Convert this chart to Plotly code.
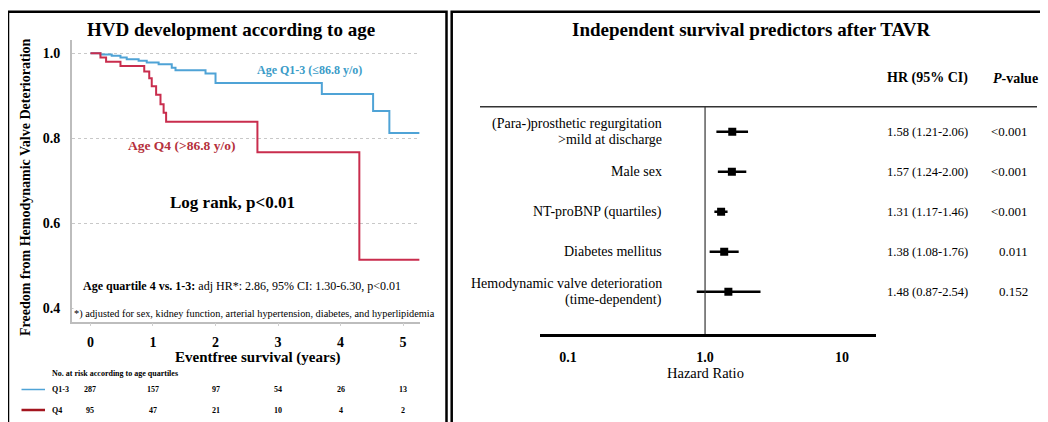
import plotly.graph_objects as go

W, H = 1048, 422
OFF = 8  # page body margin of the browser
SERIF = "Liberation Serif, Times New Roman, serif"

# ---------------- Kaplan-Meier data ----------------
km_time_q13 = [0, 0.16, 0.34, 0.48, 0.58, 0.77, 0.90, 1.09, 1.30, 1.36, 1.84, 2.00, 3.70, 4.52, 4.78, 5.26]
km_surv_q13 = [1.0, 0.997, 0.994, 0.990, 0.986, 0.982, 0.978, 0.974, 0.966, 0.960, 0.952, 0.930, 0.904, 0.864, 0.812, 0.812]

km_time_q4 = [0, 0.16, 0.25, 0.48, 0.86, 0.94, 0.98, 1.05, 1.12, 1.17, 1.21, 2.67, 4.30, 5.26]
km_surv_q4 = [1.0, 0.990, 0.980, 0.970, 0.957, 0.941, 0.922, 0.902, 0.880, 0.860, 0.839, 0.767, 0.514, 0.514]

x_ticks = [0, 1, 2, 3, 4, 5]
y_ticks = [0.4, 0.6, 0.8, 1.0]
y_ticklabels = ["0.4", "0.6", "0.8", "1.0"]

risk_groups = ["Q1-3", "Q4"]
risk_q13 = [287, 157, 97, 54, 26, 13]
risk_q4 = [95, 47, 21, 10, 4, 2]

# ---------------- Forest plot data ----------------
predictors = [
    "(Para-)prosthetic regurgitation<br>>mild at discharge",
    "Male sex",
    "NT-proBNP (quartiles)",
    "Diabetes mellitus",
    "Hemodynamic valve deterioration<br>(time-dependent)",
]
hr_est = [1.58, 1.57, 1.31, 1.38, 1.48]
hr_lo = [1.21, 1.24, 1.17, 1.08, 0.87]
hr_hi = [2.06, 2.00, 1.46, 1.76, 2.54]
p_values = ["&lt;0.001", "&lt;0.001", "&lt;0.001", "0.011", "0.152"]
hr_ticks = [0.1, 1, 10]
hr_ticklabels = ["0.1", "1.0", "10"]

BLUE = "#4fa3d6"
BLUE_TXT = "#3b9cc8"
RED = "#c92d4d"
RED_TXT = "#b5303c"
RED_DARK = "#a3151f"


def PX(x):
    return (x - OFF) / W


def PY(y):
    return 1 - (y - OFF) / H


def A(text, x, y, xref="paper", yref="paper", size=14, color="black", xanchor="center", **kw):
    d = dict(text=text, x=x, y=y, xref=xref, yref=yref, showarrow=False,
             xanchor=xanchor, yanchor="middle",
             font=dict(family=SERIF, size=size, color=color))
    d.update(kw)
    return d


fig = go.Figure()

# KM curves
fig.add_trace(go.Scatter(x=km_time_q13, y=km_surv_q13, mode="lines",
                         line=dict(color=BLUE, width=2, shape="hv"),
                         xaxis="x", yaxis="y", showlegend=False, hoverinfo="skip"))
fig.add_trace(go.Scatter(x=km_time_q4, y=km_surv_q4, mode="lines",
                         line=dict(color=RED, width=2, shape="hv"),
                         xaxis="x", yaxis="y", showlegend=False, hoverinfo="skip"))

# Forest plot
rows = list(range(len(predictors)))
fig.add_trace(go.Scatter(
    x=hr_est, y=rows, mode="markers",
    marker=dict(symbol="square", size=8, color="black"),
    error_x=dict(type="data", symmetric=False,
                 array=[h - e for h, e in zip(hr_hi, hr_est)],
                 arrayminus=[e - l for e, l in zip(hr_est, hr_lo)],
                 color="black", thickness=2.5, width=0),
    xaxis="x2", yaxis="y2", showlegend=False, hoverinfo="skip"))

ann = []
shapes = []

# ---------- Left panel texts ----------
ann.append(A("<b>HVD development according to age</b>", PX(231), PY(30), size=19))
ann.append(A("<b>Freedom from Hemodynamic Valve Deterioration</b>", PX(25), PY(187), size=14,
             textangle=-90))
ann.append(A("<b>Age Q1-3 (≤86.8 y/o)</b>", 3.5, 0.961, xref="x", yref="y", size=12, color=BLUE_TXT))
ann.append(A("<b>Age Q4 (&gt;86.8 y/o)</b>", 1.45, 0.783, xref="x", yref="y", size=13.5, color=RED_TXT))
ann.append(A("<b>Log rank, p&lt;0.01</b>", PX(232), PY(202), size=17))
ann.append(A("<b>Age quartile 4 vs. 1-3:</b> adj HR*: 2.86, 95% CI: 1.30-6.30, p&lt;0.01",
             PX(241.5), PY(286), size=12))
ann.append(A("*) adjusted for sex, kidney function, arterial hypertension, diabetes, and hyperlipidemia",
             PX(254), PY(313.5), size=10.3, bgcolor="white", borderpad=0))
ann.append(A("<b>Eventfree survival (years)</b>", PX(258), PY(357), size=15))
ann.append(A("<b>No. at risk according to age quartiles</b>", PX(50), PY(373), size=8, xanchor="left"))
risk_rows_y = [389.5, 410]
risk_colors = [BLUE, RED_DARK]
risk_widths = [1.5, 2.5]
for g, vals, yy, col, lw in zip(risk_groups, [risk_q13, risk_q4], risk_rows_y, risk_colors, risk_widths):
    ann.append(A("<b>" + g + "</b>", PX(50), PY(yy), size=8, xanchor="left"))
    shapes.append(dict(type="line", xref="paper", yref="paper", x0=PX(21.5), x1=PX(45),
                       y0=PY(yy), y1=PY(yy), line=dict(color=col, width=lw)))
    for t, v in zip(x_ticks, vals):
        ann.append(A("<b>%d</b>" % v, t, PY(yy), xref="x", size=8))

# ---------- Right panel texts ----------
ann.append(A("<b>Independent survival predictors after TAVR</b>", PX(751), PY(30), size=19))
ann.append(A("<b>HR (95% CI)</b>", PX(927), PY(78), size=14))
ann.append(A("<b><i>P</i>-value</b>", PX(1015), PY(78), size=14))
LINE_GAP = 15.7
for i, (lab, e, lo, hi, p) in enumerate(zip(predictors, hr_est, hr_lo, hr_hi, p_values)):
    parts = lab.split("<br>")
    n = len(parts)
    for k, part in enumerate(parts):
        ann.append(A(part, PX(664), i, yref="y2", xanchor="right", size=14,
                     yshift=-(k - (n - 1) / 2) * LINE_GAP))
    ann.append(A("%.2f (%.2f-%.2f)" % (e, lo, hi), PX(927), i, yref="y2", size=12.5))
    ann.append(A(p, PX(1030), i, yref="y2", xanchor="right", size=13))
ann.append(A("Hazard Ratio", PX(705), PY(373), size=14.5))

# header rule and reference line
shapes.append(dict(type="line", xref="paper", yref="paper", x0=PX(480), x1=PX(1037),
                   y0=PY(106.7), y1=PY(106.7), line=dict(color="#333333", width=1.5)))
shapes.append(dict(type="line", xref="x2", yref="paper", x0=1, x1=1,
                   y0=PY(106.7), y1=PY(334), line=dict(color="#333333", width=1.2)))

# panel borders
shapes.append(dict(type="rect", xref="paper", yref="paper", x0=PX(8), x1=PX(446.5),
                   y0=PY(450), y1=PY(11.7), line=dict(color="black", width=2.5)))
shapes.append(dict(type="rect", xref="paper", yref="paper", x0=PX(451.7), x1=PX(1080),
                   y0=PY(450), y1=PY(11.7), line=dict(color="black", width=2.5)))

fig.update_layout(
    width=W, height=H,
    margin=dict(l=0, r=0, t=0, b=0),
    paper_bgcolor="white", plot_bgcolor="white",
    showlegend=False,
    xaxis=dict(domain=[PX(71.7), PX(420)], range=[-0.30, 5.27],
               tickvals=x_ticks, ticktext=["<b>%d</b>" % t for t in x_ticks],
               tickfont=dict(family=SERIF, size=14, color="black"),
               showgrid=False, zeroline=False, showline=True, linecolor="#bdbdbd", linewidth=1.5,
               ticks="outside", ticklen=3, tickcolor="#cfcfcf", ticklabelstandoff=4,
               anchor="y"),
    yaxis=dict(domain=[PY(321.7), PY(40)], range=[0.3685, 1.031],
               tickvals=y_ticks, ticktext=["<b>%s</b>" % t for t in y_ticklabels],
               tickfont=dict(family=SERIF, size=14, color="black"),
               showgrid=True, gridcolor="#c8c8c8", griddash="dot", gridwidth=1,
               zeroline=False, showline=True, linecolor="#bdbdbd", linewidth=1.5,
               ticks="", ticklabelstandoff=7, anchor="x"),
    xaxis2=dict(domain=[PX(539.7), PX(875.6)], type="log", range=[-1.207, 1.245],
                tickvals=hr_ticks, ticktext=["<b>%s</b>" % t for t in hr_ticklabels],
                tickfont=dict(family=SERIF, size=14, color="black"),
                showgrid=False, zeroline=False, showline=True, linecolor="black", linewidth=3,
                ticks="", ticklabelstandoff=8, anchor="y2"),
    yaxis2=dict(domain=[PY(334), PY(106.7)], range=[5.0575, -0.625], visible=False,
                anchor="x2"),
    annotations=ann,
    shapes=shapes,
)

fig.write_html("out.html")
